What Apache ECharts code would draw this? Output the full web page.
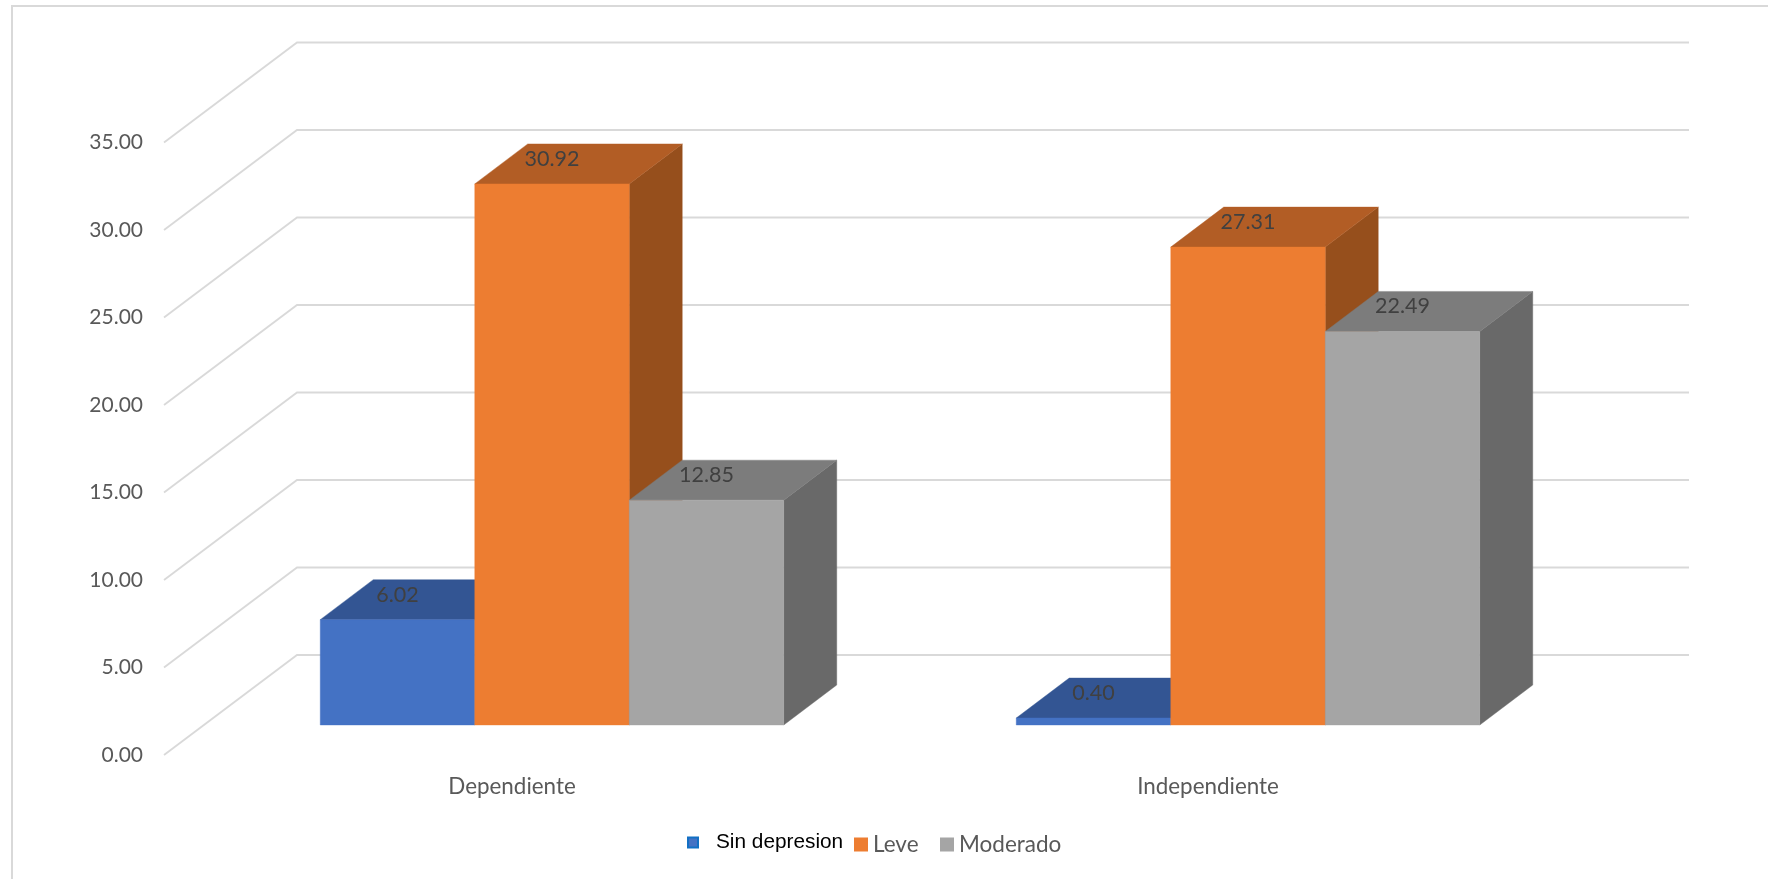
<!DOCTYPE html>
<html>
<head>
<meta charset="utf-8">
<style>html,body{margin:0;padding:0;background:#fff}#c{width:1768px;height:879px}</style>
<script src="https://cdn.jsdelivr.net/npm/echarts@6/dist/echarts.min.js"></script>
</head>
<body>
<div id="c"></div>
<script>
var categories = ['Dependiente', 'Independiente'];
var sinDepresion = [6.02, 0.40];
var leve = [30.92, 27.31];
var moderado = [12.85, 22.49];
var yTicks = [0, 5, 10, 15, 20, 25, 30, 35];

var FONT = 'Lato, "Noto Sans", sans-serif';
var WALL = {dx: 133, dy: -100};
var FLOOR = {dx: 40, dy: -30};
var BAR_DEPTH = {dx: 53, dy: -40};
var BAR_SHARE = 154.5 / 696;

function toPairs(arr) { return arr.map(function (v, i) { return [i, v]; }); }

function poly(pts, fill) {
  return {type: 'polygon', shape: {points: pts}, style: {fill: fill, stroke: fill, lineWidth: 0.4}};
}

function barRenderer(slot, front, top, side) {
  return function (params, api) {
    var cat = api.value(0), val = api.value(1);
    var pv = api.coord([cat, val]), p0 = api.coord([cat, 0]);
    var w = api.size([1, 0])[0] * BAR_SHARE;
    var x0 = p0[0] + FLOOR.dx + (slot - 1.5) * w;
    var x1 = x0 + w;
    var yb = p0[1] + FLOOR.dy;
    var yt = pv[1] + FLOOR.dy;
    var dx = BAR_DEPTH.dx, dy = BAR_DEPTH.dy;
    return {type: 'group', children: [
      poly([[x1, yb], [x1 + dx, yb + dy], [x1 + dx, yt + dy], [x1, yt]], side),
      poly([[x0, yt], [x1, yt], [x1 + dx, yt + dy], [x0 + dx, yt + dy]], top),
      poly([[x0, yb], [x1, yb], [x1, yt], [x0, yt]], front),
      {type: 'text', z2: 10, style: {
        x: (x0 + x1) / 2, y: yt - 25, text: val.toFixed(2), align: 'center', verticalAlign: 'middle',
        fill: '#404040', font: '21.5px ' + FONT
      }}
    ]};
  };
}

function gridRenderer(params, api) {
  var v = api.value(1);
  var y = api.coord([0, v])[1];
  var cs = params.coordSys;
  var style = {stroke: '#D9D9D9', lineWidth: 1.8, fill: null};
  return {type: 'polyline', shape: {points: [
    [cs.x, y], [cs.x + WALL.dx, y + WALL.dy], [cs.x + cs.width + WALL.dx, y + WALL.dy]
  ]}, style: style};
}

function barSeries(name, arr, slot, front, top, side) {
  return {
    type: 'custom', name: name, data: toPairs(arr), clip: false, silent: true,
    encode: {x: 0, y: 1}, itemStyle: {color: front},
    renderItem: barRenderer(slot, front, top, side), z: 3 + slot
  };
}

var chart = echarts.init(document.getElementById('c'), null, {renderer: 'canvas'});
chart.setOption({
  animation: false,
  backgroundColor: '#fff',
  grid: {left: 164, top: 142.5, width: 1392, height: 612.5},
  xAxis: {
    type: 'category', data: categories,
    axisLine: {show: false}, axisTick: {show: false}, splitLine: {show: false},
    axisLabel: {margin: 21, color: '#595959', fontFamily: FONT, fontSize: 22.4}
  },
  yAxis: {
    type: 'value', min: 0, max: 35, interval: 5,
    axisLine: {show: false}, axisTick: {show: false}, splitLine: {show: false},
    axisLabel: {margin: 21, color: '#595959', fontFamily: FONT, fontSize: 21,
      formatter: function (v) { return v.toFixed(2); }}
  },
  legend: [
    {data: [{name: 'Sin depresion', itemStyle: {borderColor: '#1270C4', borderWidth: 2}}],
     left: 687, top: 832, padding: 0, itemWidth: 10, itemHeight: 10, icon: 'rect',
     textStyle: {color: '#000', fontFamily: '"Liberation Sans", Arial, sans-serif', fontSize: 20.8, padding: [0, 0, 0, 13]}},
    {data: ['Leve'], left: 854, top: 833, padding: 0, itemWidth: 14, itemHeight: 14, icon: 'rect',
     textStyle: {color: '#595959', fontFamily: FONT, fontSize: 22.5}},
    {data: ['Moderado'], left: 940, top: 833, padding: 0, itemWidth: 14, itemHeight: 14, icon: 'rect',
     textStyle: {color: '#595959', fontFamily: FONT, fontSize: 22.5}}
  ],
  graphic: [{
    type: 'polyline', silent: true,
    shape: {points: [[12, 879], [12, 6], [1768, 6]]},
    style: {stroke: '#D9D9D9', lineWidth: 2, fill: null}
  }],
  series: [
    {type: 'custom', name: 'grid', data: yTicks.map(function (v) { return [0, v]; }), clip: false, silent: true,
     encode: {x: 0, y: 1}, renderItem: gridRenderer, z: 1},
    barSeries('Sin depresion', sinDepresion, 0, '#4472C4', '#335593', '#2F5597'),
    barSeries('Leve', leve, 1, '#ED7D31', '#B25D25', '#964F1C'),
    barSeries('Moderado', moderado, 2, '#A5A5A5', '#7C7C7C', '#696969')
  ]
});
</script>
</body>
</html>
